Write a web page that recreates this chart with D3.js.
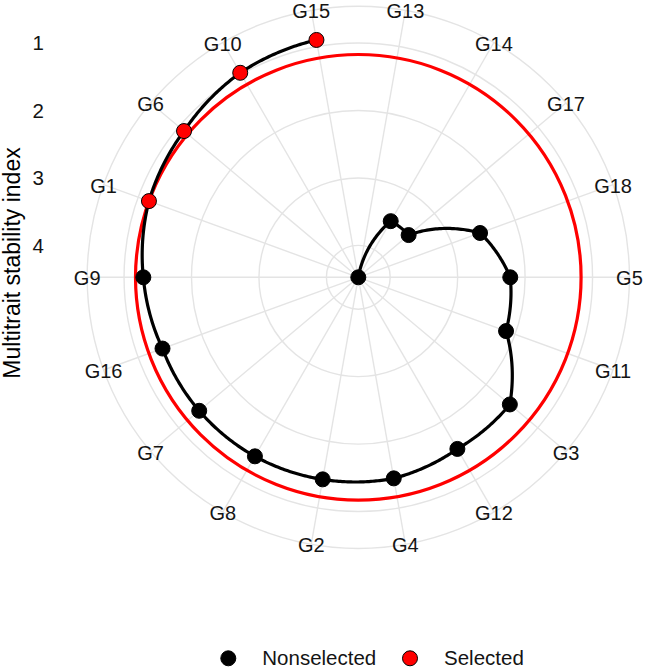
<!DOCTYPE html>
<html>
<head>
<meta charset="utf-8">
<script src="https://cdn.jsdelivr.net/npm/d3@7"></script>
<style>
  body { margin: 0; background: #fff; }
  text { font-family: "Liberation Sans", Arial, sans-serif; }
</style>
</head>
<body>
<div id="chartDiv"></div>
<script>
    // genotypes in ranking order (lowest MTSI first)
    var genotypes = ["G15", "G10", "G6", "G1", "G9", "G16", "G7", "G8", "G2", "G4",
                     "G12", "G3", "G11", "G5", "G18", "G17", "G14", "G13"];
    var mtsi = [0.90, 0.972, 1.10, 1.17, 1.286, 1.384, 1.394, 1.408, 1.431, 1.446,
                1.535, 1.540, 2.142, 2.220, 2.552, 3.499, 3.512, 4.473];
    var selected = ["G15", "G10", "G6", "G1"];
    var cutpoint = 1.17;
    var rTicks = [1, 2, 3, 4];
    var legendLabels = ["Nonselected", "Selected"];

    var width = 645;
    var height = 668;
    var cx = 358.3;
    var cy = 277.3;
    var R = 241;

    var dataset = [];
    for (var i = 0; i < genotypes.length; i++) {
        dataset.push({ g: genotypes[i], v: mtsi[i], sel: selected.indexOf(genotypes[i]) >= 0 });
    }

    function buildChart(dataset) {
        var angle = d3.scalePoint()
                      .domain(genotypes)
                      .range([0, -2 * Math.PI])
                      .padding(0.5);

        var rScale = d3.scaleLinear()
                       .domain([d3.max(dataset, function(d) { return d.v; }), d3.min(dataset, function(d) { return d.v; })])
                       .range([0, R]);
        var outer = R * 0.45 / 0.4;

        var fill = d3.scaleOrdinal().domain(legendLabels).range(["black", "red"]);

        var svg = d3.select("#chartDiv")
                    .append("svg")
                    .attr("width", width)
                    .attr("height", height);

        var g = svg.append("g").attr("transform", "translate(" + cx + "," + cy + ")");

        // grid circles
        g.selectAll("circle.grid")
         .data(rTicks.map(function(t) { return rScale(t); }).concat([outer]))
         .enter()
         .append("circle")
         .attr("class", "grid")
         .attr("r", function(d) { return d; })
         .attr("fill", "none")
         .attr("stroke", "#e4e4e4")
         .attr("stroke-width", 1.4);

        // spokes
        g.selectAll("line.spoke")
         .data(genotypes)
         .enter()
         .append("line")
         .attr("class", "spoke")
         .attr("x1", 0).attr("y1", 0)
         .attr("x2", function(d) { return outer * Math.sin(angle(d)); })
         .attr("y2", function(d) { return -outer * Math.cos(angle(d)); })
         .attr("stroke", "#e4e4e4")
         .attr("stroke-width", 1.4);

        // cutpoint circle
        g.append("circle")
         .attr("r", rScale(cutpoint))
         .attr("fill", "none")
         .attr("stroke", "red")
         .attr("stroke-width", 3.2);

        // path drawn like ggplot's polar munching: straight in (angle, value) space
        var munched = [];
        for (var i = 0; i < dataset.length - 1; i++) {
            var a0 = angle(dataset[i].g), a1 = angle(dataset[i + 1].g);
            var v0 = dataset[i].v, v1 = dataset[i + 1].v;
            for (var k = 0; k < 40; k++) {
                var t = k / 40;
                munched.push({ a: a0 + (a1 - a0) * t, v: v0 + (v1 - v0) * t });
            }
        }
        var last = dataset[dataset.length - 1];
        munched.push({ a: angle(last.g), v: last.v });

        var line = d3.lineRadial()
                     .angle(function(d) { return d.a; })
                     .radius(function(d) { return rScale(d.v); });

        g.append("path")
         .datum(munched)
         .attr("d", line)
         .attr("fill", "none")
         .attr("stroke", "black")
         .attr("stroke-width", 3.2)
         .attr("stroke-linejoin", "round");

        g.selectAll("circle.pt")
         .data(dataset)
         .enter()
         .append("circle")
         .attr("class", "pt")
         .attr("cx", function(d) { return rScale(d.v) * Math.sin(angle(d.g)); })
         .attr("cy", function(d) { return -rScale(d.v) * Math.cos(angle(d.g)); })
         .attr("r", 7.5)
         .attr("fill", function(d) { return d.sel ? fill("Selected") : fill("Nonselected"); })
         .attr("stroke", "black")
         .attr("stroke-width", 1)
         .append("title")
         .text(function(d) { return d.g + ": " + d.v; });

        // genotype labels on the outer ring
        g.selectAll("text.lab")
         .data(genotypes)
         .enter()
         .append("text")
         .attr("class", "lab")
         .attr("x", function(d) { return outer * Math.sin(angle(d)); })
         .attr("y", function(d) { return -outer * Math.cos(angle(d)); })
         .attr("text-anchor", "middle")
         .attr("dy", "0.4em")
         .attr("font-size", 20)
         .attr("fill", "#141414")
         .text(function(d) { return d; });

        // radial axis ticks on the left
        svg.selectAll("text.tick")
           .data(rTicks)
           .enter()
           .append("text")
           .attr("class", "tick")
           .attr("x", 44)
           .attr("y", function(d) { return cy - rScale(d); })
           .attr("dy", "0.35em")
           .attr("text-anchor", "end")
           .attr("font-size", 20.5)
           .attr("fill", "#141414")
           .text(function(d) { return d; });

        svg.append("text")
           .attr("transform", "translate(20,263) rotate(-90)")
           .attr("text-anchor", "middle")
           .attr("font-size", 23)
           .attr("fill", "black")
           .text("Multitrait stability index");

        // legend
        var lx = [228.3, 410];
        var leg = svg.selectAll("g.leg")
                     .data(legendLabels)
                     .enter()
                     .append("g")
                     .attr("class", "leg")
                     .attr("transform", function(d, i) { return "translate(" + lx[i] + ",658.3)"; });
        leg.append("circle")
           .attr("r", 7.5)
           .attr("fill", function(d) { return fill(d); })
           .attr("stroke", "black")
           .attr("stroke-width", 1);
        leg.append("text")
           .attr("x", 34)
           .attr("dy", "0.35em")
           .attr("font-size", 20.5)
           .attr("fill", "#141414")
           .text(function(d) { return d; });
    }
    buildChart(dataset);
</script>
</body>
</html>
